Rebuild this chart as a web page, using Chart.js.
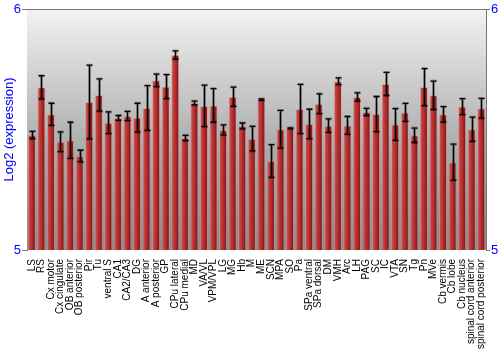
<!DOCTYPE html>
<html>
<head>
<meta charset="utf-8">
<script src="https://cdn.jsdelivr.net/npm/chart.js@4/dist/chart.umd.min.js"></script>
<style>
  html, body { margin: 0; padding: 0; background: #fff; }
  #chart { display: block; }
</style>
</head>
<body>
<canvas id="chart" width="500" height="350"></canvas>
<script>
// brain regions, one bar each
const regions = [
  "LS", "RS", "Cx motor", "Cx cingulate", "OB anterior", "OB posterior", "Pir", "Tu",
  "ventral S", "CA1", "CA2/CA3", "DG", "A anterior", "A posterior", "GP", "CPu lateral",
  "CPu medial", "MD", "VA/VL", "VPM/VPL", "LG", "MG", "Hb", "M",
  "ME", "SCN", "MPA", "SO", "Pa", "SPa ventral", "SPa dorsal", "DM",
  "VMH", "Arc", "LH", "PAG", "SC", "IC", "VTA", "SN",
  "Tg", "Pn", "MVe", "Cb vermis", "Cb lobe", "Cb nucleus", "spinal cord anterior", "spinal cord posterior"
];

// mean log2 expression
const expression = [
  5.477, 5.675, 5.563, 5.449, 5.455, 5.390, 5.614, 5.643,
  5.528, 5.548, 5.556, 5.549, 5.589, 5.704, 5.678, 5.809,
  5.465, 5.610, 5.598, 5.600, 5.498, 5.636, 5.515, 5.462,
  5.624, 5.369, 5.501, 5.505, 5.585, 5.523, 5.607, 5.516,
  5.700, 5.517, 5.635, 5.573, 5.564, 5.689, 5.521, 5.571,
  5.476, 5.676, 5.642, 5.563, 5.364, 5.595, 5.501, 5.588
];

// error bar half-length
const errors = [
  0.015, 0.048, 0.046, 0.041, 0.075, 0.024, 0.153, 0.067,
  0.045, 0.010, 0.019, 0.060, 0.093, 0.026, 0.050, 0.017,
  0.011, 0.008, 0.086, 0.070, 0.021, 0.040, 0.012, 0.051,
  0.003, 0.068, 0.078, 0.002, 0.102, 0.061, 0.041, 0.028,
  0.014, 0.037, 0.017, 0.015, 0.073, 0.048, 0.066, 0.037,
  0.030, 0.077, 0.059, 0.032, 0.075, 0.033, 0.050, 0.041
];

const yMin = 5;
const yMax = 6;
const BAR_PCT = 0.85;

const fontFamily = "'Liberation Sans', Arial, sans-serif";

// bar fill: horizontal red gradient across each bar
function barFill(ctx) {
  const chart = ctx.chart;
  const xs = chart.scales.x;
  if (ctx.dataIndex === undefined || !xs || !chart.chartArea) return "#b03030";
  const cx = xs.getPixelForValue(ctx.dataIndex);
  const half = (xs.width / regions.length) * BAR_PCT / 2;
  const g = chart.ctx.createLinearGradient(cx - half, 0, cx + half, 0);
  g.addColorStop(0, "#d65a5a");
  g.addColorStop(0.3, "#c43c3c");
  g.addColorStop(0.7, "#a02222");
  g.addColorStop(1, "#661010");
  return g;
}

// gray backdrop + top frame line
const backdrop = {
  id: "backdrop",
  beforeDatasetsDraw(chart) {
    const { ctx, chartArea: a } = chart;
    const g = ctx.createLinearGradient(0, a.top, 0, a.bottom);
    g.addColorStop(0, "#f2f2f2");
    g.addColorStop(0.6, "#a9a9a9");
    g.addColorStop(1, "#8a8a8a");
    ctx.save();
    ctx.fillStyle = g;
    ctx.fillRect(a.left, a.top, a.right - a.left, a.bottom - a.top);
    ctx.strokeStyle = "#777";
    ctx.lineWidth = 1;
    ctx.beginPath();
    ctx.moveTo(a.left, a.top + 0.5);
    ctx.lineTo(a.right, a.top + 0.5);
    ctx.stroke();
    ctx.restore();
  }
};

// error bars drawn with the y scale
const errorBars = {
  id: "errorBars",
  afterDatasetsDraw(chart) {
    const { ctx } = chart;
    const y = chart.scales.y;
    const meta = chart.getDatasetMeta(0);
    ctx.save();
    meta.data.forEach((bar, i) => {
      const x = Math.round(bar.x) + 0.5;
      const top = y.getPixelForValue(expression[i] + errors[i]);
      const bot = y.getPixelForValue(expression[i] - errors[i]);
      const cap = 3;
      // soft shadow
      ctx.strokeStyle = "rgba(0,0,0,0.25)";
      ctx.lineWidth = 3;
      ctx.beginPath();
      ctx.moveTo(x, top); ctx.lineTo(x, bot);
      ctx.moveTo(x - cap, top); ctx.lineTo(x + cap, top);
      ctx.moveTo(x - cap, bot); ctx.lineTo(x + cap, bot);
      ctx.stroke();
      ctx.strokeStyle = "#000";
      ctx.lineWidth = 1.3;
      ctx.beginPath();
      ctx.moveTo(x, top); ctx.lineTo(x, bot);
      ctx.moveTo(x - cap, top); ctx.lineTo(x + cap, top);
      ctx.moveTo(x - cap, bot); ctx.lineTo(x + cap, bot);
      ctx.stroke();
    });
    ctx.restore();
  }
};

const yTickOpts = {
  stepSize: 1,
  color: "#0000ff",
  font: { family: fontFamily, size: 13 },
  padding: 1
};

new Chart(document.getElementById("chart"), {
  type: "bar",
  data: {
    labels: regions,
    datasets: [{
      data: expression,
      backgroundColor: barFill,
      borderColor: "rgba(225,140,140,0.55)",
      borderWidth: 1,
      barPercentage: BAR_PCT,
      categoryPercentage: 1
    }]
  },
  options: {
    responsive: false,
    animation: false,
    layout: { padding: { top: 9, right: 0, left: 0, bottom: 0 } },
    plugins: { legend: { display: false }, tooltip: { enabled: false } },
    scales: {
      x: {
        grid: { display: false },
        border: { display: false },
        ticks: {
          autoSkip: false,
          maxRotation: 90,
          minRotation: 90,
          padding: 1,
          color: "#000",
          font: { family: fontFamily, size: 10 }
        },
        afterFit: s => { s.height = 100; }
      },
      y: {
        position: "left",
        min: yMin,
        max: yMax,
        ticks: yTickOpts,
        grid: { drawOnChartArea: false, tickLength: 5, color: "#777" },
        border: { color: "#777" },
        title: {
          display: true,
          text: "Log2 (expression)",
          color: "#0000ff",
          font: { family: fontFamily, size: 13 },
          padding: { top: 2, bottom: 0 }
        },
        afterFit: s => { s.width = 27; }
      },
      y2: {
        position: "right",
        min: yMin,
        max: yMax,
        ticks: yTickOpts,
        grid: { drawOnChartArea: false, tickLength: 4, color: "#777" },
        border: { color: "#777" },
        afterFit: s => { s.width = 14; }
      }
    }
  },
  plugins: [backdrop, errorBars]
});
</script>
</body>
</html>
